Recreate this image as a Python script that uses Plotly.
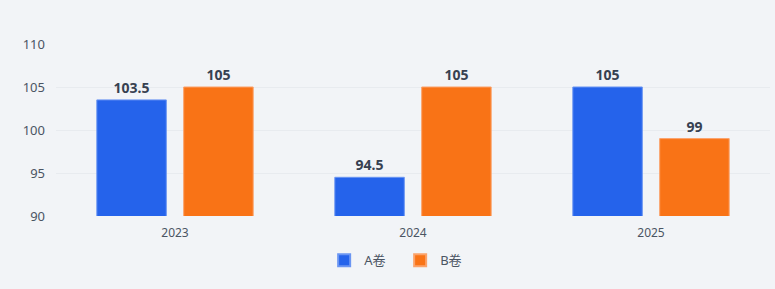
import plotly.graph_objects as go

years = ["2023", "2024", "2025"]
a_vals = [103.5, 94.5, 105]
b_vals = [105, 105, 99]

bg = "#f2f4f7"
label_font = dict(size=14, color="#374151", family="Noto Sans, sans-serif", weight="bold")
fig = go.Figure()
fig.add_trace(go.Bar(name="A卷", x=years, y=a_vals, text=[str(v) for v in a_vals],
                     textposition="outside", cliponaxis=False,
                     marker=dict(color="#2563eb", line=dict(color="#6b95f2", width=1)),
                     textfont=label_font))
fig.add_trace(go.Bar(name="B卷", x=years, y=b_vals, text=[str(v) for v in b_vals],
                     textposition="outside", cliponaxis=False,
                     marker=dict(color="#f97316", line=dict(color="#fba26a", width=1)),
                     textfont=label_font))
fig.update_layout(
    width=775, height=289,
    margin=dict(l=56, r=5, t=44, b=73),
    paper_bgcolor=bg, plot_bgcolor=bg,
    font=dict(family="Noto Sans, Noto Sans CJK SC, sans-serif", size=12, color="#4b5563"),
    barmode="group", bargap=0.27, bargroupgap=0.2,
    showlegend=True,
    legend=dict(orientation="h", x=0.482, xanchor="center", y=-0.17, yanchor="top",
                font=dict(size=13, color="#4b5563"), itemsizing="constant",
                entrywidth=31),
    yaxis=dict(range=[90, 110], dtick=5, gridcolor="#e8ebef", zeroline=False,
               showline=False, ticks="", ticklabelstandoff=10,
               tickfont=dict(size=13)),
    xaxis=dict(showgrid=False, showline=False, ticks="", ticklabelstandoff=8,
               tickfont=dict(size=12)),
)
fig.write_html("out.html")
